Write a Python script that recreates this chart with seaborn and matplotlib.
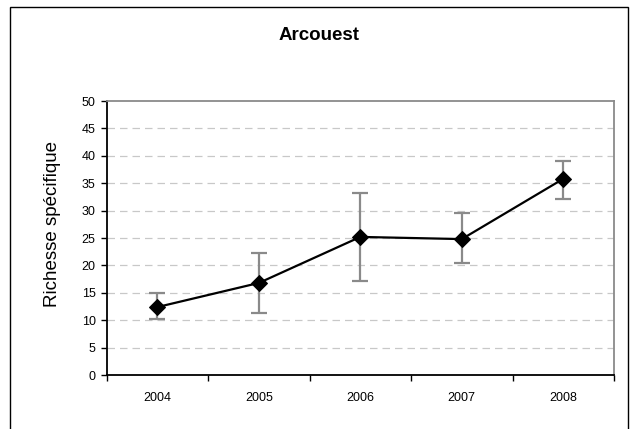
import matplotlib
matplotlib.use("Agg")
import matplotlib.pyplot as plt
import matplotlib.patches as mpatches
import seaborn as sns
import pandas as pd
import numpy as np

years = ["2004", "2005", "2006", "2007", "2008"]
richness = [12.4, 16.8, 25.2, 24.8, 35.8]
err_low = [10.2, 11.4, 17.2, 20.4, 32.1]
err_high = [15.0, 22.3, 33.2, 29.6, 39.0]
y_ticks = [0, 5, 10, 15, 20, 25, 30, 35, 40, 45, 50]

sns.set_theme(style="white")
plt.rcParams['font.family'] = ['Liberation Sans', 'DejaVu Sans']
plt.rcParams['text.color'] = 'black'
plt.rcParams['xtick.color'] = 'black'
plt.rcParams['ytick.color'] = 'black'

fig = plt.figure(figsize=(6.38, 4.29), dpi=100)
ax = fig.add_axes([106.7/638, 1-375/429, (614-106.7)/638, (375-101)/429])

pos = np.arange(len(years))
df = pd.DataFrame({"pos": pos, "richness": richness})

# error bars
r = np.array(richness)
yerr = np.vstack([r - np.array(err_low), np.array(err_high) - r])
ax.errorbar(pos, r, yerr=yerr, fmt="none", ecolor="#8a8a8a", elinewidth=1.6,
            capsize=5.5, capthick=1.6, zorder=2)

sns.lineplot(data=df, x="pos", y="richness", ax=ax, color="black", lw=1.6,
             marker="D", markersize=8, markeredgecolor="black", zorder=3)

ax.set_xlim(-0.5, len(years) - 0.5)
ax.set_ylim(0, 50)
ax.set_yticks(y_ticks)
ax.set_yticklabels([str(t) for t in y_ticks], fontsize=9)
ax.set_xticks(np.arange(-0.5, len(years), 1.0))
ax.set_xticklabels([])
ax.set_xticks(pos, minor=True)
ax.set_xticklabels(years, minor=True, fontsize=9)
ax.tick_params(axis="x", which="major", direction="out", length=4, width=1, color="black", bottom=True)
ax.tick_params(axis="x", which="minor", length=0, pad=12)
ax.tick_params(axis="y", direction="out", length=4, width=1, color="black", left=True, pad=4)
ax.set_xlabel("")
ax.set_ylabel("")

for t in y_ticks[1:-1]:
    ax.axhline(t, color="#c8c8c8", lw=0.9, ls=(0, (6, 4)), zorder=1)

ax.spines["left"].set_color("black")
ax.spines["bottom"].set_color("black")
ax.spines["top"].set_color("#8a8a8a")
ax.spines["right"].set_color("#8a8a8a")
for s in ax.spines.values():
    s.set_linewidth(1.3)

fig.text(0.5, 1-35/429, "Arcouest", ha="center", va="center", fontsize=13.5,
         fontweight="bold", color="black")
fig.text(53/638, 1-224/429, "Richesse spécifique", rotation=90, ha="center", va="center",
         fontsize=13.5, color="black")

rect = mpatches.Rectangle((10/638, -0.05), (628-10)/638, 1.05-7/429, transform=fig.transFigure,
                          fill=False, edgecolor="black", lw=1, clip_on=False)
fig.patches.append(rect)

fig.savefig("out.png", dpi=100)
